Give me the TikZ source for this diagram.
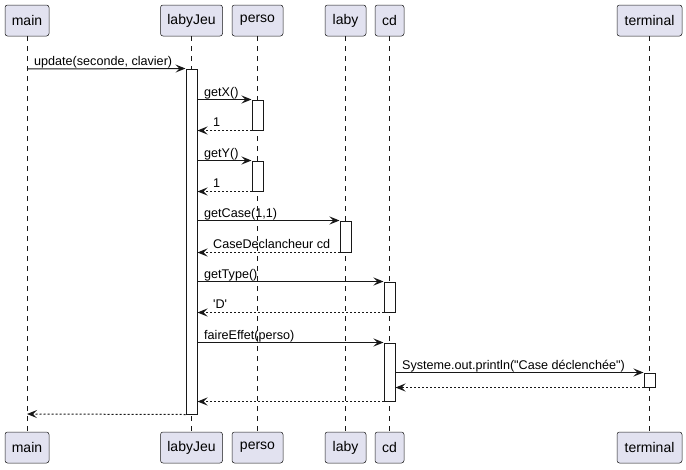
\documentclass[tikz,border=0pt]{standalone}
\usepackage{fontspec}
\newfontfamily\umlfont{Liberation Sans}
\usetikzlibrary{arrows.meta}
\definecolor{pbg}{HTML}{E2E2F0}
\definecolor{ln}{HTML}{181818}
\begin{document}
\begin{tikzpicture}[x=1pt,y=-1pt,
 part/.style={draw=ln, fill=pbg, rounded corners=2.5pt, minimum height=31pt, inner sep=0pt, font=\umlfont\fontsize{14}{16}\selectfont, line width=0.5pt},
 life/.style={draw=ln, dash pattern=on 5pt off 5pt, line width=0.5pt},
 act/.style={draw=ln, fill=white, line width=1pt, minimum width=11pt, inner sep=0pt},
 msg/.style={draw=ln, line width=1pt, -{Stealth[length=10pt,width=8pt,inset=4pt]}},
 ret/.style={msg, dash pattern=on 2pt off 2pt},
 lbl/.style={font=\umlfont\fontsize{12.6}{15}\selectfont, anchor=base west, inner sep=0pt, text=black}]
\useasboundingbox (0,0) rectangle (686,469);
\fill[white] (0,0) rectangle (686,469);
% participants top
\node[part, minimum width=44pt] (mainT) at (27,20.5) {main};
\node[part, minimum width=62pt] (jeuT) at (191.5,20.5) {labyJeu};
\node[part, minimum width=51pt] (persoT) at (257.5,20.5) {perso};
\node[part, minimum width=41pt] (labyT) at (345.5,20.5) {laby};
\node[part, minimum width=29pt] (cdT) at (389.5,20.5) {cd};
\node[part, minimum width=65pt] (termT) at (649.5,20.5) {terminal};
% participants bottom
\node[part, minimum width=44pt] (mainB) at (27,447.5) {main};
\node[part, minimum width=62pt] (jeuB) at (191.5,447.5) {labyJeu};
\node[part, minimum width=51pt] (persoB) at (257.5,447.5) {perso};
\node[part, minimum width=41pt] (labyB) at (345.5,447.5) {laby};
\node[part, minimum width=29pt] (cdB) at (389.5,447.5) {cd};
\node[part, minimum width=65pt] (termB) at (649.5,447.5) {terminal};
% lifelines
\foreach \p in {main,jeu,perso,laby,cd,term}{
  \draw[life] (\p T.south) -- (\p B.north);
}
% activations
\node[act, minimum height=345pt] (a1) at (191.5,241.5) {};
\node[act, minimum height=30pt] (p1) at (257.5,115) {};
\node[act, minimum height=30pt] (p2) at (257.5,176) {};
\node[act, minimum height=31pt] (l1) at (345.5,236.5) {};
\node[act, minimum height=30pt] (c1) at (389.5,297) {};
\node[act, minimum height=58pt] (c2) at (389.5,372) {};
\node[act, minimum height=14pt] (t1) at (649.5,380) {};
% coordinates on lifelines / bars
\coordinate (m69) at (27,69);
\coordinate (m414) at (27,414);
% messages
\draw[msg] (m69) -- (a1.north west);
\node[lbl] (t-upd) at (34,65) {update(seconde, clavier)};

\draw[msg] (a1.east |- p1.north) -- (p1.north west);
\node[lbl] (t-gx) at (204,96) {getX()};
\draw[ret] (p1.south west) -- (a1.east |- p1.south);
\node[lbl] (t-r1) at (213,126) {1};

\draw[msg] (a1.east |- p2.north) -- (p2.north west);
\node[lbl] (t-gy) at (204,157) {getY()};
\draw[ret] (p2.south west) -- (a1.east |- p2.south);
\node[lbl] (t-r2) at (213,187) {1};

\draw[msg] (a1.east |- l1.north) -- (l1.north west);
\node[lbl] (t-gc) at (204,217) {getCase(1,1)};
\draw[ret] (l1.south west) -- (a1.east |- l1.south);
\node[lbl] (t-r3) at (213,248) {CaseDeclancheur cd};

\draw[msg] (a1.east |- c1.north) -- (c1.north west);
\node[lbl] (t-gt) at (204,278) {getType()};
\draw[ret] (c1.south west) -- (a1.east |- c1.south);
\node[lbl] (t-r4) at (213,308) {'D'};

\draw[msg] (a1.east |- c2.north) -- (c2.north west);
\node[lbl] (t-fe) at (204,339) {faireEffet(perso)};

\draw[msg] (c2.east |- t1.north) -- (t1.north west);
\node[lbl] (t-sy) at (402,369) {Systeme.out.println("Case déclenchée")};
\draw[ret] (t1.south west) -- (c2.east |- t1.south);

\draw[ret] (c2.south west) -- (a1.east |- c2.south);
\draw[ret] (a1.south west) -- (m414);
\end{tikzpicture}
\end{document}
